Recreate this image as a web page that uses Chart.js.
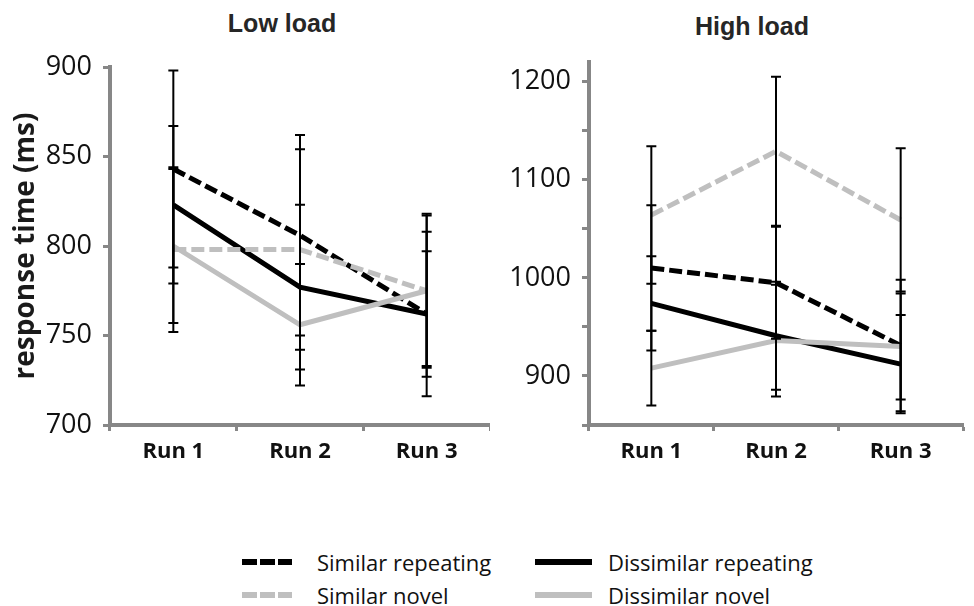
<!DOCTYPE html>
<html>
<head>
<meta charset="utf-8">
<script src="https://cdn.jsdelivr.net/npm/chart.js@4"></script>
<style>
  body { margin: 0; background: #fff; width: 974px; height: 606px; position: relative; overflow: hidden; font-family: 'Open Sans', sans-serif; }
  canvas { position: absolute; top: 0; }
  .title { position: absolute; font: bold 25px 'Liberation Sans', Arial, sans-serif; color: #262626; transform: translate(-50%, -50%); white-space: nowrap; }
  .leg { position: absolute; transform: translateY(-50%); white-space: nowrap; }
  .leg-text { font-size: 22px; color: #111; line-height: 1; }
  .leg svg { display: block; }
</style>
</head>
<body>
<div class="title" style="left:282px; top:23px">Low load</div>
<div class="title" style="left:752px; top:26px">High load</div>
<canvas id="lowChart" width="490" height="470" style="left:0"></canvas>
<canvas id="highChart" width="484" height="470" style="left:490px"></canvas>
<div id="legend"></div>
<script>
const runs = ['Run 1', 'Run 2', 'Run 3'];
const seriesNames = ['Similar repeating', 'Dissimilar repeating', 'Similar novel', 'Dissimilar novel'];

// low load means and error bars (ms)
const lowSimRep = [843, 806, 762];
const lowSimRepErr = [55, 56, 46];
const lowDisRep = [823, 777, 762];
const lowDisRepErr = [44, 46, 35];
const lowSimNov = [798, 798, 775];
const lowSimNovErr = [46, 56, 43];
const lowDisNov = [800, 756, 775];
const lowDisNovErr = [43, 34, 42];

// high load
const highSimRep = [1010, 995, 931];
const highSimRepErr = [64, 57, 67];
const highDisRep = [974, 941, 912];
const highDisRepErr = [48, 55, 50];
const highSimNov = [1064, 1129, 1059];
const highSimNovErr = [70, 76, 73];
const highDisNov = [908, 936, 930];
const highDisNovErr = [38, 57, 54];

const lowTicks = [700, 750, 800, 850, 900];
const highTicks = [850, 900, 950, 1000, 1050, 1100, 1150, 1200];

const AXIS = '#878787';
const BLACK = '#000000';
const GRAY = '#bfbfbf';
const DASH = [13, 5];

const styles = {
  'Similar repeating': { color: BLACK, dash: DASH },
  'Dissimilar repeating': { color: BLACK, dash: [] },
  'Similar novel': { color: GRAY, dash: DASH },
  'Dissimilar novel': { color: GRAY, dash: [] }
};

// draw mean +/- error whiskers for every dataset
const errorBars = {
  id: 'errorBars',
  afterDatasetsDraw(chart) {
    const { ctx } = chart;
    const y = chart.scales.y;
    ctx.save();
    ctx.strokeStyle = '#000';
    ctx.lineWidth = 2;
    chart.data.datasets.forEach((ds, i) => {
      const meta = chart.getDatasetMeta(i);
      meta.data.forEach((pt, j) => {
        const v = ds.data[j], e = ds.errors[j];
        const top = y.getPixelForValue(v + e);
        const bot = y.getPixelForValue(v - e);
        ctx.beginPath();
        ctx.moveTo(pt.x, top); ctx.lineTo(pt.x, bot);
        ctx.moveTo(pt.x - 5, top); ctx.lineTo(pt.x + 5, top);
        ctx.moveTo(pt.x - 5, bot); ctx.lineTo(pt.x + 5, bot);
        ctx.stroke();
      });
    });
    ctx.restore();
  }
};

function makeDatasets(list) {
  // novel (gray) lines are drawn on top, so they come first
  return list.map(([name, data, errors]) => ({
    label: name,
    data,
    errors,
    borderColor: styles[name].color,
    borderDash: styles[name].dash,
    borderWidth: 5,
    pointRadius: 0,
    tension: 0,
    fill: false
  }));
}

function makeChart(el, datasets, yOpts, yWidth, yTitle, pad) {
  return new Chart(el.getContext('2d'), {
    type: 'line',
    data: { labels: runs, datasets },
    options: {
      responsive: false,
      animation: false,
      layout: { padding: pad },
      plugins: { legend: { display: false }, tooltip: { enabled: false } },
      scales: {
        x: {
          offset: true,
          grid: { offset: true, drawOnChartArea: false, tickLength: 6, tickWidth: 3, tickColor: AXIS },
          border: { color: AXIS, width: 4 },
          ticks: { color: '#111', padding: 8, font: { family: 'Open Sans', size: 22, weight: 'bold' } },
          afterFit: (s) => { s.height = 45; }
        },
        y: Object.assign({
          grid: { drawOnChartArea: false, tickLength: 7, tickWidth: 3, tickColor: AXIS },
          border: { color: AXIS, width: 4 },
          title: { display: !!yTitle, text: yTitle || '', color: '#1a1a1a', padding: { top: 9, bottom: 0 }, font: { family: 'Open Sans', size: 28, weight: 'bold' } },
          afterFit: (s) => { s.width = yWidth; }
        }, yOpts)
      }
    },
    plugins: [errorBars]
  });
}

makeChart(document.getElementById('lowChart'), makeDatasets([
  ['Dissimilar novel', lowDisNov, lowDisNovErr],
  ['Similar novel', lowSimNov, lowSimNovErr],
  ['Dissimilar repeating', lowDisRep, lowDisRepErr],
  ['Similar repeating', lowSimRep, lowSimRepErr]
]), {
  min: 700, max: 900,
  afterBuildTicks: (s) => { s.ticks = lowTicks.map(v => ({ value: v })); },
  ticks: { color: '#111', padding: 11, font: { family: 'Open Sans', size: 27 } }
}, 110, 'response time (ms)', { top: 67, left: 0, right: 0, bottom: 0 });

makeChart(document.getElementById('highChart'), makeDatasets([
  ['Dissimilar novel', highDisNov, highDisNovErr],
  ['Similar novel', highSimNov, highSimNovErr],
  ['Dissimilar repeating', highDisRep, highDisRepErr],
  ['Similar repeating', highSimRep, highSimRepErr]
]), {
  min: 850, max: 1220,
  afterBuildTicks: (s) => { s.ticks = highTicks.map(v => ({ value: v })); },
  ticks: { color: '#111', padding: 11, font: { family: 'Open Sans', size: 27 },
    callback: (v) => (v % 100 === 0 ? v : '') }
}, 99, '', { top: 62, left: 0, right: 11, bottom: 0 });

// shared legend under both panels: [line left, line width, text left, row centre]
const legendPos = [[242, 50, 317, 562], [535, 57, 608, 562], [242, 50, 317, 595], [535, 57, 608, 595]];
const legend = document.getElementById('legend');
seriesNames.forEach((name, i) => {
  const st = styles[name];
  const [lx, lw, tx, cy] = legendPos[i];
  const dash = st.dash.length ? 'stroke-dasharray="15 3"' : '';
  const line = document.createElement('div');
  line.className = 'leg';
  line.style.left = lx + 'px';
  line.style.top = cy + 'px';
  line.innerHTML = `<svg width="${lw}" height="8"><line x1="0" y1="4" x2="${lw}" y2="4" stroke="${st.color}" stroke-width="6" ${dash}/></svg>`;
  const text = document.createElement('div');
  text.className = 'leg leg-text';
  text.style.left = tx + 'px';
  text.style.top = cy + 'px';
  text.textContent = name;
  legend.appendChild(line);
  legend.appendChild(text);
});
</script>
</body>
</html>
